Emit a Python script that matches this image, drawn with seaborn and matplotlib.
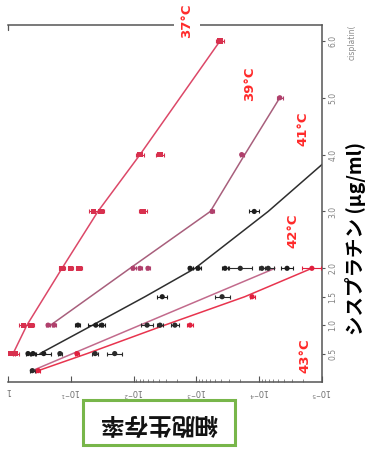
import matplotlib
matplotlib.use("Agg")
import matplotlib.pyplot as plt
import numpy as np
import pandas as pd
import seaborn as sns
from matplotlib.patches import Rectangle
from matplotlib.ticker import FixedLocator, NullFormatter

# Cisplatin dose (ug/ml) against surviving fraction, one curve per heating temperature
temps = ["37°C", "39°C", "41°C", "42°C", "43°C"]

# fitted curves (vertices)
fit_dose_37 = [0.5, 1.0, 2.0, 3.0, 4.0, 6.0]
fit_surv_37 = [0.83, 0.50, 0.138, 0.037, 0.0079, 4.2e-4]
fit_dose_39 = [1.0, 2.0, 3.0, 4.0, 5.0]
fit_surv_39 = [0.21, 0.0114, 6.0e-4, 1.7e-4, 4.7e-5]
fit_dose_41 = [0.5, 1.0, 1.5, 2.0, 3.0, 4.0]
fit_surv_41 = [0.31, 0.045, 0.0066, 1.05e-3, 7.2e-5, 6.6e-6]
fit_dose_42 = [0.2, 1.0, 2.0]
fit_surv_42 = [0.41, 0.0079, 5.6e-5]
fit_dose_43 = [0.2, 0.5, 1.0, 1.5, 2.0]
fit_surv_43 = [0.33, 0.055, 0.0032, 1.7e-4, 1.45e-5]

# measured points: dose, surviving fraction, error (decades)
pt_dose_37 = [0.5, 0.5, 1, 1, 2, 2, 2, 3, 3, 3, 4, 4, 6]
pt_surv_37 = [0.90, 0.75, 0.56, 0.43, 0.138, 0.10, 0.074, 0.043, 0.033, 0.0071, 0.0079, 0.0038, 4.2e-4]
pt_err_37 = [0.06, 0.05, 0.08, 0.05, 0.05, 0.04, 0.05, 0.08, 0.05, 0.06, 0.07, 0.06, 0.06]
pt_dose_39 = [1, 1, 2, 2, 2, 3, 4, 5]
pt_surv_39 = [0.23, 0.185, 0.0102, 0.0079, 0.0059, 5.6e-4, 1.9e-4, 4.7e-5]
pt_err_39 = [0.03, 0.03, 0.04, 0.03, 0.03, 0.03, 0.03, 0.05]
pt_dose_41 = [0.5, 0.5, 0.5, 1, 1, 1, 1.5, 2, 2, 2, 2, 3]
pt_surv_41 = [0.48, 0.40, 0.27, 0.077, 0.040, 0.032, 0.0035, 1.26e-3, 9.4e-4, 3.5e-4, 3.6e-5, 1.2e-4]
pt_err_41 = [0.03, 0.03, 0.12, 0.04, 0.12, 0.05, 0.08, 0.04, 0.04, 0.05, 0.10, 0.08]
pt_dose_42 = [0.2, 0.5, 0.5, 0.5, 1, 1, 1, 1.5, 2, 2, 2]
pt_surv_42 = [0.41, 0.149, 0.041, 0.020, 0.0061, 0.0038, 0.0022, 3.9e-4, 2.0e-4, 9.1e-5, 7.2e-5]
pt_err_42 = [0.04, 0.03, 0.05, 0.12, 0.10, 0.05, 0.06, 0.12, 0.18, 0.05, 0.10]
pt_dose_43 = [0.2, 0.5, 1, 1.5, 2]
pt_surv_43 = [0.33, 0.080, 1.26e-3, 1.3e-4, 1.45e-5]
pt_err_43 = [0.03, 0.03, 0.05, 0.04, 0.15]

surv_ticks = [1, 1e-1, 1e-2, 1e-3, 1e-4, 1e-5]
surv_labels = ["1", "$10^{-1}$", "$10^{-2}$", "$10^{-3}$", "$10^{-4}$", "$10^{-5}$"]
dose_ticks = [0.5, 1.0, 1.5, 2.0, 3.0, 4.0, 5.0, 6.0]
dose_labels = ["0.5", "1.0", "1.5", "2.0", "3.0", "4.0", "5.0", "6.0"]

line_colors = {"37°C": "#dc4868", "39°C": "#a85f7c", "41°C": "#2e2e2e",
               "42°C": "#c26a8c", "43°C": "#e8344e"}
point_colors = {"37°C": "#d8304e", "39°C": "#b0406c", "41°C": "#1e1e1e",
                "42°C": "#2a2a2a", "43°C": "#e0203e"}
point_markers = {"37°C": "s", "39°C": "o", "41°C": "o", "42°C": "o", "43°C": "o"}

fits = pd.concat([
    pd.DataFrame({"temp": t, "dose": d, "surv": s})
    for t, d, s in zip(temps,
                       [fit_dose_37, fit_dose_39, fit_dose_41, fit_dose_42, fit_dose_43],
                       [fit_surv_37, fit_surv_39, fit_surv_41, fit_surv_42, fit_surv_43])
], ignore_index=True)
points = pd.concat([
    pd.DataFrame({"temp": t, "dose": d, "surv": s, "err": e})
    for t, d, s, e in zip(temps,
                          [pt_dose_37, pt_dose_39, pt_dose_41, pt_dose_42, pt_dose_43],
                          [pt_surv_37, pt_surv_39, pt_surv_41, pt_surv_42, pt_surv_43],
                          [pt_err_37, pt_err_39, pt_err_41, pt_err_42, pt_err_43])
], ignore_index=True)

sns.set_theme(style="white")
plt.rcParams["font.family"] = ["DejaVu Sans"]

W, H = 381, 453
fig = plt.figure(figsize=(W / 100, H / 100), dpi=100)
fig.patch.set_facecolor("white")
ax = fig.add_axes([8 / W, 1 - 382 / H, (322 - 8) / W, (382 - 25) / H])

ax.set_xscale("log")

# horizontal error bars on the measured points
for t in temps:
    sub = points[points.temp == t]
    s = sub.surv.to_numpy()
    e = sub.err.to_numpy()
    ax.errorbar(s, sub.dose, xerr=[s - s / 10 ** e, s * 10 ** e - s], fmt="none",
                ecolor=point_colors[t], elinewidth=0.8, capsize=1.2, capthick=0.8,
                zorder=3, clip_on=True)

sns.lineplot(data=fits, x="surv", y="dose", hue="temp", palette=line_colors,
             orient="y", estimator=None, sort=True, legend=False, lw=1.1, ax=ax,
             zorder=2)
sns.scatterplot(data=points, x="surv", y="dose", hue="temp", style="temp",
                palette=point_colors, markers=point_markers, s=14, linewidth=0,
                legend=False, ax=ax, zorder=4)

ax.set_xlim(1, 1e-5)
ax.set_ylim(0, 6.28)
ax.set_xlabel("")
ax.set_ylabel("")

ax.set_xticks(surv_ticks)
ax.set_xticklabels(surv_labels, rotation=180, fontsize=6, color="#707070")
minor = [k * 10.0 ** -n for n in (3, 4, 5) for k in range(2, 10)]
ax.xaxis.set_minor_locator(FixedLocator(minor))
ax.xaxis.set_minor_formatter(NullFormatter())
ax.tick_params(axis="x", which="major", direction="in", length=4, width=0.8,
               color="#555555", bottom=True, top=False, pad=3)
ax.tick_params(axis="x", which="minor", direction="in", length=2.5, width=0.6,
               color="#777777", bottom=True, top=False)

ax.yaxis.tick_right()
ax.set_yticks(dose_ticks)
ax.set_yticklabels(dose_labels, rotation=90, fontsize=5.5, color="#808080",
                   va="center")
ax.tick_params(axis="y", which="major", direction="out", length=2.5, width=0.8,
               color="#555555", right=True, left=False, pad=2)

ax.spines["left"].set_visible(False)
for side in ("top", "right", "bottom"):
    ax.spines[side].set_color("#555555")
    ax.spines[side].set_linewidth(1.1)
ax.plot([0, 0], [1, 0.985], transform=ax.transAxes, color="#555555", lw=0.9,
        clip_on=False)
ax.grid(False)


def fx(px):
    return px / W


def fy(py):
    return 1 - py / H


# temperature labels
temp_pos = {"37°C": (187, 21), "39°C": (250, 84), "41°C": (303, 129),
            "42°C": (293, 231), "43°C": (305, 356)}
for t, (px, py) in temp_pos.items():
    bb = None
    if t in ("37°C", "42°C"):
        bb = dict(boxstyle="square,pad=0.5", facecolor="white", edgecolor="none")
    fig.text(fx(px), fy(py), t, rotation=90, color="#ff2a2a", fontsize=9.5,
             fontweight="bold", ha="center", va="center", bbox=bb)

fig.text(fx(352), fy(42), "cisplatin(", rotation=90, fontsize=5.5,
         color="#8a8a8a", ha="center", va="center")

fig.text(fx(356), fy(238), "シスプラチン (μg/ml)", rotation=90, fontsize=14,
         fontweight="bold", color="black", ha="center", va="center",
         family=["Noto Sans CJK JP", "DejaVu Sans"])

fig.add_artist(Rectangle((fx(83), fy(445)), 152 / W, 45 / H,
                         transform=fig.transFigure, facecolor="white",
                         edgecolor="#78b64a", linewidth=2.2))
fig.text(fx(159), fy(423), "細胞生存率", rotation=180, fontsize=17,
         fontweight="bold", color="#111111", ha="center", va="center",
         family=["Noto Sans CJK JP", "DejaVu Sans"])

fig.savefig("out.png", dpi=100)
